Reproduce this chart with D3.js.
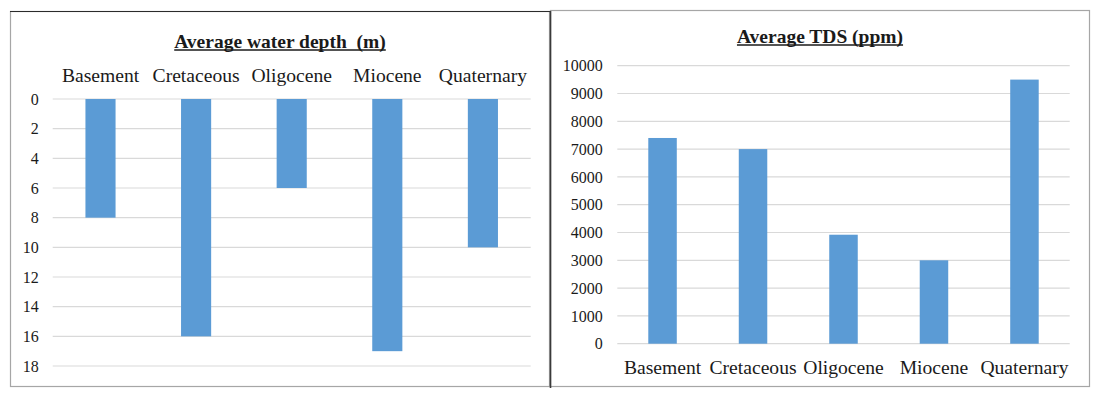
<!DOCTYPE html>
<html>
<head>
<meta charset="utf-8">
<script src="https://cdn.jsdelivr.net/npm/d3@7"></script>
<style>
  body { margin: 0; background: #fff; }
</style>
</head>
<body>
<div class="chart"></div>
<script>
var categories = ["Basement", "Cretaceous", "Oligocene", "Miocene", "Quaternary"];
var depthValues = [8, 16, 6, 17, 10];
var tdsValues = [7400, 7000, 3920, 3000, 9500];
var depthTicks = [0, 2, 4, 6, 8, 10, 12, 14, 16, 18];
var tdsTicks = [0, 1000, 2000, 3000, 4000, 5000, 6000, 7000, 8000, 9000, 10000];

var serif = "'Liberation Serif', 'Times New Roman', serif";
var barColor = "#5b9bd5";
var gridColor = "#d9d9d9";
var barRatio = 0.315; // excel-ish gap width

var svg = d3
  .select(".chart")
  .append("svg")
  .attr("width", 1099)
  .attr("height", 397)
  .style("font-family", serif);

// panel frames
svg.append("rect")
  .attr("x", 10.5).attr("y", 11.5)
  .attr("width", 539).attr("height", 375)
  .attr("fill", "none").attr("stroke", "#a6a6a6").attr("stroke-width", 1.2);
svg.append("rect")
  .attr("x", 550.5).attr("y", 10.5)
  .attr("width", 539).attr("height", 376)
  .attr("fill", "none").attr("stroke", "#a6a6a6").attr("stroke-width", 1.2);
svg.append("line")
  .attr("x1", 10).attr("x2", 551).attr("y1", 11.5).attr("y2", 11.5)
  .attr("stroke", "#2b2b2b").attr("stroke-width", 1.2);
svg.append("line")
  .attr("x1", 550.5).attr("x2", 550.5).attr("y1", 11).attr("y2", 388)
  .attr("stroke", "#3a3a3a").attr("stroke-width", 1.6);

function addTitle(text, cx, baseline, size) {
  var t = svg.append("text")
    .attr("x", cx).attr("y", baseline)
    .attr("text-anchor", "middle")
    .attr("fill", "#1a1a1a")
    .style("font-family", serif)
    .style("font-size", size)
    .style("font-weight", "bold")
    .style("white-space", "pre")
    .text(text);
  var w = t.node().getComputedTextLength();
  svg.append("line")
    .attr("x1", cx - w / 2).attr("x2", cx + w / 2)
    .attr("y1", baseline + 2).attr("y2", baseline + 2)
    .attr("stroke", "#1a1a1a").attr("stroke-width", 1.3);
}

function styleAxis(g, size) {
  g.attr("font-family", null).attr("font-size", null);
  g.select(".domain").remove();
  g.selectAll("text")
    .style("font-family", serif)
    .style("font-size", size)
    .attr("fill", "#1a1a1a");
}

// ---- left: average water depth ----
var x1 = d3.scaleBand().domain(categories).range([52.7, 530.7]).padding(0);
var y1 = d3.scaleLinear().domain([0, 18]).range([99, 366]);

svg.append("g")
  .selectAll("line")
  .data(depthTicks)
  .enter()
  .append("line")
  .attr("x1", 52.7).attr("x2", 530.7)
  .attr("y1", d => y1(d)).attr("y2", d => y1(d))
  .attr("stroke", gridColor).attr("stroke-width", 1.2);

svg.append("g")
  .selectAll("rect")
  .data(depthValues)
  .enter()
  .append("rect")
  .attr("x", (d, i) => x1(categories[i]) + x1.bandwidth() * (1 - barRatio) / 2)
  .attr("y", y1(0))
  .attr("width", x1.bandwidth() * barRatio)
  .attr("height", d => y1(d) - y1(0))
  .attr("fill", barColor);

svg.append("g")
  .attr("transform", "translate(52.7,0)")
  .call(d3.axisLeft(y1).tickValues(depthTicks).tickSize(0).tickPadding(14))
  .call(g => styleAxis(g, "16px"));

svg.append("g")
  .attr("transform", "translate(0,99)")
  .call(d3.axisTop(x1).tickSize(0).tickPadding(17))
  .call(g => styleAxis(g, "19.6px"));

addTitle("Average water depth  (m)", 280, 48, "19.5px");

// ---- right: average TDS ----
var x2 = d3.scaleBand().domain(categories).range([617.3, 1069.7]).padding(0);
var y2 = d3.scaleLinear().domain([0, 10000]).range([343.7, 65.7]);

svg.append("g")
  .selectAll("line")
  .data(tdsTicks)
  .enter()
  .append("line")
  .attr("x1", 617.3).attr("x2", 1069.7)
  .attr("y1", d => y2(d)).attr("y2", d => y2(d))
  .attr("stroke", gridColor).attr("stroke-width", 1.2);

svg.append("g")
  .selectAll("rect")
  .data(tdsValues)
  .enter()
  .append("rect")
  .attr("x", (d, i) => x2(categories[i]) + x2.bandwidth() * (1 - barRatio) / 2)
  .attr("y", d => y2(d))
  .attr("width", x2.bandwidth() * barRatio)
  .attr("height", d => y2(0) - y2(d))
  .attr("fill", barColor);

svg.append("g")
  .attr("transform", "translate(617.3,0)")
  .call(d3.axisLeft(y2).tickValues(tdsTicks).tickSize(0).tickPadding(14.6).tickFormat(d3.format("d")))
  .call(g => styleAxis(g, "16px"));

svg.append("g")
  .attr("transform", "translate(0,343.7)")
  .call(d3.axisBottom(x2).tickSize(0).tickPadding(16))
  .call(g => styleAxis(g, "19.6px"));

addTitle("Average TDS (ppm)", 820, 43, "19.5px");
</script>
</body>
</html>
